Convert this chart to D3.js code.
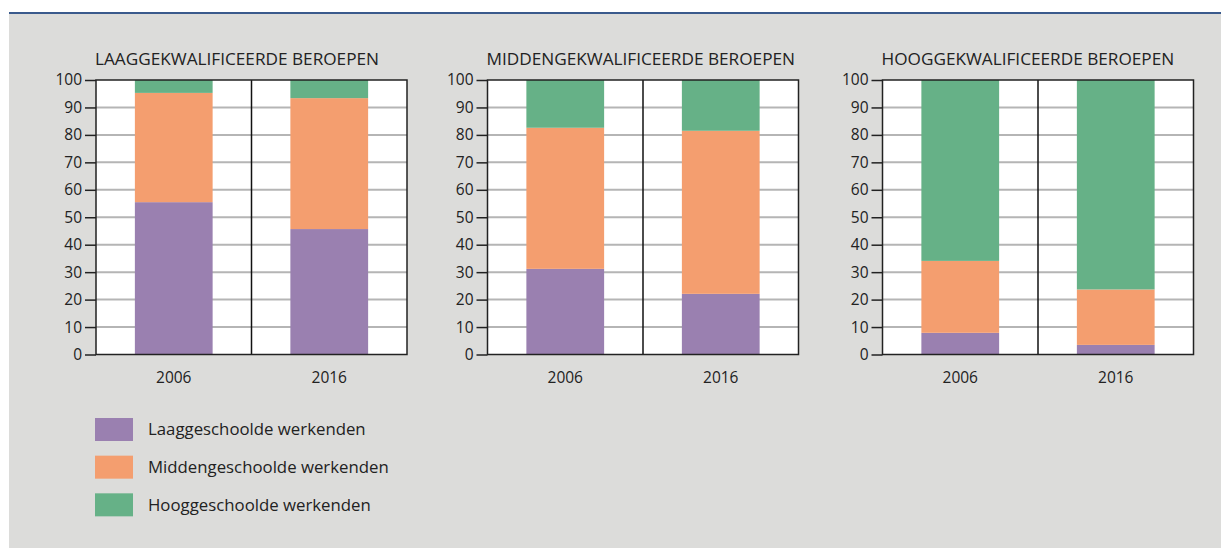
<!DOCTYPE html>
<html>
<head>
<meta charset="utf-8">
<script src="https://cdn.jsdelivr.net/npm/d3@7"></script>
<style>
  html, body { margin: 0; padding: 0; background: #ffffff; }
  svg { display: block; }
  text { font-family: "Open Sans", "Noto Sans", sans-serif; fill: #222; }
</style>
</head>
<body>
<svg id="chart" width="1221" height="548"></svg>
<script>
// ---- data ----
const panelTitles = ["LAAGGEKWALIFICEERDE BEROEPEN", "MIDDENGEKWALIFICEERDE BEROEPEN", "HOOGGEKWALIFICEERDE BEROEPEN"];
const years = ["2006", "2016"];
const seriesNames = ["Laaggeschoolde werkenden", "Middengeschoolde werkenden", "Hooggeschoolde werkenden"];
const seriesKeys = ["laag", "midden", "hoog"];
// values per panel, per year
const laaggeschoold   = [[55.5, 45.7], [31.2, 22.1], [7.9, 3.5]];
const middengeschoold = [[39.8, 47.7], [51.4, 59.4], [26.2, 20.2]];
const hooggeschoold   = [[4.7, 6.6],   [17.4, 18.5], [65.9, 76.3]];
const yTicks = [0, 10, 20, 30, 40, 50, 60, 70, 80, 90, 100];
const colors = ["#9a80b0", "#f49e6f", "#66b187"];

// ---- layout ----
const svg = d3.select("#chart");
svg.append("rect").attr("x", 9).attr("y", 13).attr("width", 1212).attr("height", 535).attr("fill", "#dcdcda");
svg.append("line").attr("x1", 9).attr("x2", 1221).attr("y1", 13).attr("y2", 13)
  .attr("stroke", "#3a5a8c").attr("stroke-width", 2);

const panelLeft = [96, 487.5, 882.5];
const plotW = 311, plotTop = 80, plotH = 274.5;

const x = d3.scaleBand().domain(years).range([0, plotW]).padding(0);
const y = d3.scaleLinear().domain([0, 100]).range([plotH, 0]);
const color = d3.scaleOrdinal().domain(seriesKeys).range(colors);
const stack = d3.stack().keys(seriesKeys);

panelTitles.forEach((title, p) => {
  const rows = years.map((yr, i) => ({
    year: yr,
    laag: laaggeschoold[p][i],
    midden: middengeschoold[p][i],
    hoog: hooggeschoold[p][i]
  }));
  const stacked = stack(rows);

  const g = svg.append("g").attr("transform", `translate(${panelLeft[p]},${plotTop})`);

  g.append("text").attr("x", -1).attr("y", -15).attr("font-size", 17.2).text(title);

  g.append("rect").attr("width", plotW).attr("height", plotH).attr("fill", "#ffffff");

  // gridlines
  g.append("g").selectAll("line").data(yTicks.filter(t => t > 0 && t < 100)).join("line")
    .attr("x1", 0).attr("x2", plotW)
    .attr("y1", d => y(d)).attr("y2", d => y(d))
    .attr("stroke", "#b5b5b5").attr("stroke-width", 2);

  // bars
  const bw = x.bandwidth();
  g.append("g").selectAll("g").data(stacked).join("g")
    .attr("fill", d => color(d.key))
    .selectAll("rect").data(d => d).join("rect")
    .attr("x", d => x(d.data.year) + bw * 0.25)
    .attr("width", bw * 0.5)
    .attr("y", d => y(d[1]))
    .attr("height", d => y(d[0]) - y(d[1]));

  // divider
  g.append("line").attr("x1", x(years[1])).attr("x2", x(years[1]))
    .attr("y1", 0).attr("y2", plotH).attr("stroke", "#111").attr("stroke-width", 1.5);

  // frame
  g.append("rect").attr("width", plotW).attr("height", plotH)
    .attr("fill", "none").attr("stroke", "#222").attr("stroke-width", 1.5);

  // y axis
  const yAxis = d3.axisLeft(y).tickValues(yTicks).tickSize(11).tickPadding(3);
  const ya = g.append("g").call(yAxis);
  ya.select(".domain").remove();
  ya.selectAll(".tick line").attr("stroke", "#222").attr("stroke-width", 1.5);
  ya.selectAll(".tick text").attr("font-size", 15.5).attr("font-family", "Open Sans, Noto Sans, sans-serif").attr("fill", "#222");

  // x axis
  const xAxis = d3.axisBottom(x).tickSize(0).tickPadding(17);
  const xa = g.append("g").attr("transform", `translate(0,${plotH})`).call(xAxis);
  xa.select(".domain").remove();
  xa.selectAll(".tick text").attr("font-size", 15.5).attr("font-family", "Open Sans, Noto Sans, sans-serif").attr("fill", "#222");
});

// legend
const legend = svg.append("g").attr("transform", "translate(95,418)");
const ly = d3.scaleBand().domain(seriesKeys).range([0, 113]).padding(0);
seriesKeys.forEach((k, i) => {
  const gg = legend.append("g").attr("transform", `translate(0,${ly(k)})`);
  gg.append("rect").attr("width", 38).attr("height", 23).attr("fill", color(k));
  gg.append("text").attr("x", 53).attr("y", 11.5).attr("dy", "0.35em").attr("font-size", 16.8).text(seriesNames[i]);
});
</script>
</body>
</html>
